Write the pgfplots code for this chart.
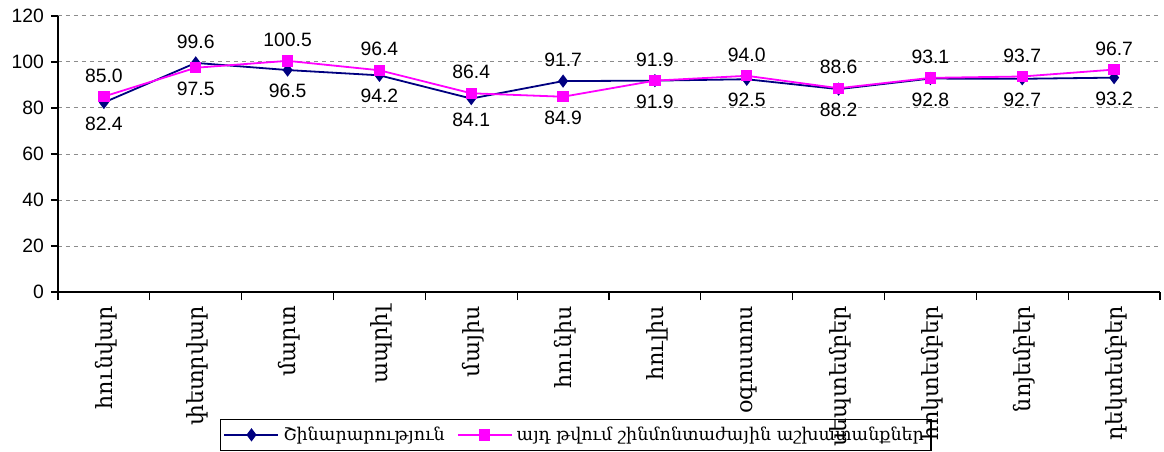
\documentclass[border=0pt]{standalone}
\usepackage{fontspec}
\setmainfont{Liberation Sans}
\newfontfamily\arm{DejaVu Serif}
\usepackage{pgfplots}
\usepackage{pgfplotstable}
\pgfplotsset{compat=1.18}
\definecolor{navyc}{HTML}{000080}
\definecolor{magc}{HTML}{FF00FF}

\pgfplotstableread{
x y p lab
0 82.4 -1 82.4
1 99.6 1 99.6
2 96.5 -1 96.5
3 94.2 -1 94.2
4 84.1 -1 84.1
5 91.7 1 91.7
6 91.9 -1 91.9
7 92.5 -1 92.5
8 88.2 -1 88.2
9 92.8 -1 92.8
10 92.7 -1 92.7
11 93.2 -1 93.2
}\sA

\pgfplotstableread{
x y p lab
0 85.0 1 85.0
1 97.5 -1 97.5
2 100.5 1 100.5
3 96.4 1 96.4
4 86.4 1 86.4
5 84.9 -1 84.9
6 91.9 1 91.9
7 94.0 1 94.0
8 88.6 1 88.6
9 93.1 1 93.1
10 93.7 1 93.7
11 96.7 1 96.7
}\sB

\begin{document}
\begin{tikzpicture}
\begin{axis}[
  width=551bp, height=138bp, scale only axis,
  xmin=-0.5, xmax=11.5, ymin=0, ymax=120,
  ytick={0,20,...,120},
  xtick={0,...,11},
  xticklabels={հունվար,փետրվար,մարտ,ապրիլ,մայիս,հունիս,հուլիս,օգոստոս,սեպտեմբեր,հոկտեմբեր,նոյեմբեր,դեկտեմբեր},
  x tick label style={font=\arm\fontsize{11.2}{13}\selectfont, rotate=90, anchor=east, yshift=-1bp},
  y tick label style={font=\fontsize{9.7}{11}\selectfont},
  /pgf/number format/assume math mode=true,
  minor xtick={-0.5,0.5,...,11.5},
  major x tick style={draw=none},
  axis x line*=bottom, axis y line*=left,
  axis line style={line width=0.6bp},
  tick align=outside,
  major tick length=3.5bp, minor tick length=4bp,
  tick style={black, line width=0.6bp},
  ymajorgrids,
  grid style={gray!90, line width=0.5bp, dash pattern=on 2bp off 2bp},
  legend style={at={(0.147,-0.575)}, anchor=south west, legend columns=2,
    draw=black, fill=none, line width=0.6bp, inner sep=1.5bp,
    font=\arm\fontsize{8.8}{10}\selectfont,
    /tikz/every even column/.append style={column sep=4bp}},
  legend image code/.code={\draw[mark repeat=2,mark phase=2,#1] plot coordinates {(0bp,0bp)(13.5bp,0bp)(27bp,0bp)};},
  nodes near coords,
  point meta=explicit symbolic,
  visualization depends on={\thisrow{p}\as\pp},
  every node near coord/.append style={anchor=center, yshift=\pp*10.5bp, font=\fontsize{9.7}{11}\selectfont, text=black},
]
\coordinate (sw) at (rel axis cs:0,0);
\coordinate (ne) at (rel axis cs:1,1);
\addplot[navyc, line width=0.9bp, mark=diamond*, mark size=2.6bp, mark options={solid, fill=navyc}] table[x=x, y=y, meta=lab] {\sA};
\addlegendentry{Շինարարություն}
\addplot[magc, line width=0.9bp, mark=square*, mark size=2.4bp, mark options={solid, fill=magc}] table[x=x, y=y, meta=lab] {\sB};
\addlegendentry{այդ թվում շինմոնտաժային աշխատանքներ}
\end{axis}
\pgfresetboundingbox
\useasboundingbox ([shift={(-29bp,-80bp)}]sw) rectangle ([shift={(2bp,8bp)}]ne);
\end{tikzpicture}
\end{document}
